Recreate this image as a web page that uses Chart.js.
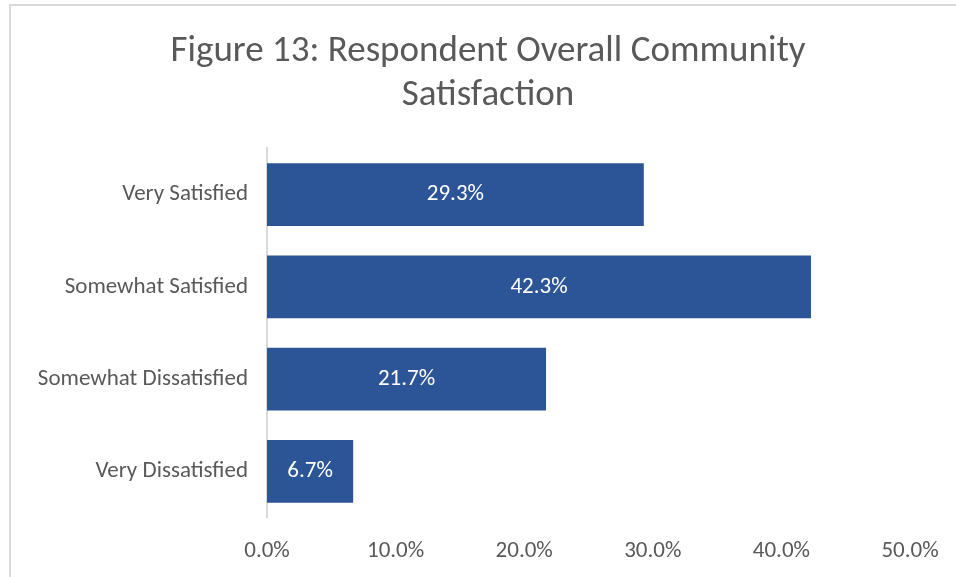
<!DOCTYPE html>
<html>
<head>
<meta charset="utf-8">
<title>Community Satisfaction</title>
<script src="https://cdn.jsdelivr.net/npm/chart.js@4"></script>
<style>
    html, body {
        margin: 0;
        padding: 0;
        background: #ffffff;
        overflow: hidden;
    }
    .frame {
        position: absolute;
        left: 9px;
        top: 4px;
        width: 960px;
        height: 590px;
        border-top: 2px solid #d9d9d9;
        border-left: 2px solid #d9d9d9;
    }
    .chart-box {
        position: absolute;
        left: 0;
        top: 0;
        width: 956px;
        height: 577px;
    }
</style>
</head>
<body>
<div class="frame"></div>
<div class="chart-box">
    <canvas id="satisfaction-chart"></canvas>
</div>
<script>
// Survey responses
const categories = ['Very Satisfied', 'Somewhat Satisfied', 'Somewhat Dissatisfied', 'Very Dissatisfied'];
const shares = [29.3, 42.3, 21.7, 6.7];
const axisTicks = [0, 10, 20, 30, 40, 50];

const FONT = 'Carlito, Calibri, "Liberation Sans Narrow", "Open Sans", sans-serif';
const BAR_BLUE = '#2c5597';
const TEXT_GREY = '#595959';

// Writes the percentage in the middle of each bar
const barValueLabels = {
    id: 'barValueLabels',
    afterDatasetsDraw(chart) {
        const ctx = chart.ctx;
        const meta = chart.getDatasetMeta(0);
        ctx.save();
        ctx.fillStyle = '#ffffff';
        ctx.font = '23px ' + FONT;
        ctx.textAlign = 'center';
        ctx.textBaseline = 'middle';
        meta.data.forEach(function(bar, i) {
            const cx = (bar.x + bar.base) / 2;
            ctx.fillText(shares[i].toFixed(1) + '%', cx, bar.y);
        });
        ctx.restore();
    }
};

function initializeChart() {
    const ctx = document.getElementById('satisfaction-chart');
    if (!ctx) return;

    new Chart(ctx, {
        type: 'bar',
        data: {
            labels: categories,
            datasets: [
                {
                    label: 'Respondents',
                    data: shares,
                    backgroundColor: BAR_BLUE,
                    borderWidth: 0,
                    categoryPercentage: 0.68,
                    barPercentage: 1.0
                }
            ]
        },
        options: {
            indexAxis: 'y',
            responsive: true,
            maintainAspectRatio: false,
            animation: false,
            layout: {
                padding: { left: 20, right: 0, top: 0, bottom: 0 }
            },
            plugins: {
                legend: { display: false },
                tooltip: { enabled: false },
                title: {
                    display: true,
                    text: ['Figure 13: Respondent Overall Community', 'Satisfaction'],
                    color: TEXT_GREY,
                    font: { family: FONT, size: 37, weight: 'normal', lineHeight: 1.19 },
                    padding: { top: 30, bottom: 30.4 }
                }
            },
            scales: {
                x: {
                    min: axisTicks[0],
                    max: axisTicks[axisTicks.length - 1],
                    afterBuildTicks: function(scale) {
                        scale.ticks = axisTicks.map(function(v) { return { value: v }; });
                    },
                    afterFit: function(scale) {
                        scale.height = 59.4;
                    },
                    grid: { display: false },
                    border: { display: false },
                    ticks: {
                        color: TEXT_GREY,
                        font: { family: FONT, size: 23 },
                        padding: 12,
                        maxRotation: 0,
                        callback: function(value) {
                            return Number(value).toFixed(1) + '%';
                        }
                    }
                },
                y: {
                    afterFit: function(scale) {
                        scale.width = 247;
                    },
                    grid: { display: false },
                    border: { display: true, color: '#d9d9d9', width: 2 },
                    ticks: {
                        color: TEXT_GREY,
                        font: { family: FONT, size: 23 },
                        padding: 11
                    }
                },
                // empty strip on the right so the plot ends short of the edge
                yRight: {
                    type: 'category',
                    position: 'right',
                    afterFit: function(scale) {
                        scale.width = 46;
                    },
                    grid: { display: false },
                    border: { display: false },
                    ticks: { display: false }
                }
            }
        },
        plugins: [barValueLabels]
    });
}

document.addEventListener('DOMContentLoaded', initializeChart);
</script>
</body>
</html>
